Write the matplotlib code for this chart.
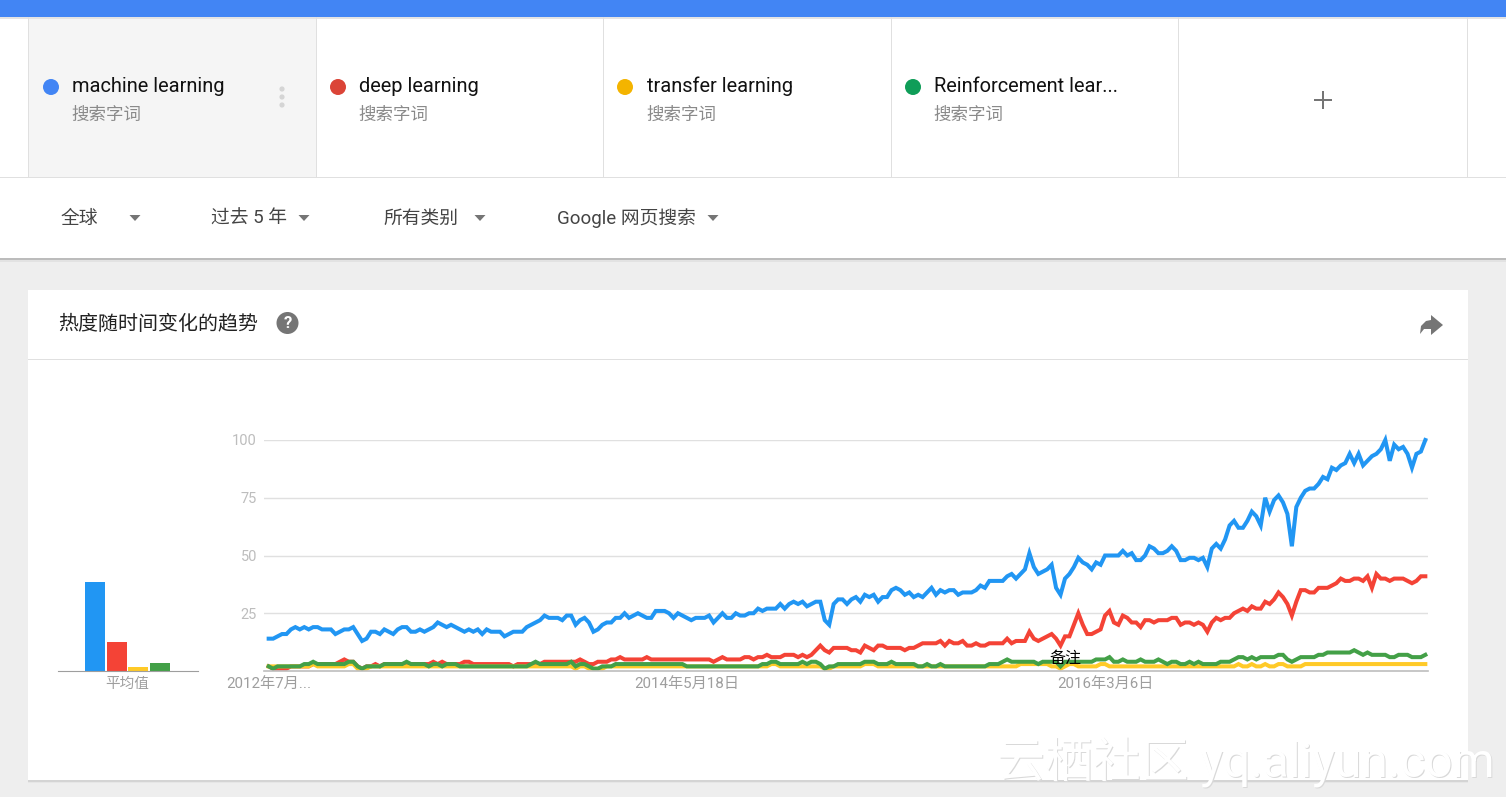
import numpy as np
import matplotlib
matplotlib.use('Agg')
import matplotlib.pyplot as plt
from matplotlib.patches import Rectangle, Circle, Polygon

plt.rcParams['font.family'] = ['Roboto', 'Noto Sans CJK SC', 'DejaVu Sans']

# Datos semanales
machine = [
    14,14,15,16,16,18,19,18,19,18, 19,19,18,18,18,16,17,18,18,19,
    16,13,14,17,17,16,18,17,16,18, 19,19,17,17,18,17,18,19,21,20,
    19,20,19,18,17,18,17,18,16,18, 17,17,17,15,16,17,17,17,19,20,
    21,22,24,23,23,23,22,24,24,20, 22,23,21,17,18,20,21,21,23,23,
    25,23,24,25,
    24,23,23,26,26,26,25,23,25,24, 23,22,23,23,23,24,21,23,25,23,
    23,25,24,24,25,25,27,26,27,27, 27,29,27,29,30,29,30,28,29,30,
    30,22,20,29,31,31,29,31,32,30, 33,32,33,30,32,32,35,36,35,33,
    34,32,33,32,34,36,33,35,34,35, 35,33,34,34,34,35,37,36,39,39,
    39,39,41,42,40,42,44,51,45,42, 43,44,46,
    36,33,40,42,45,49,
    47,46,44,47,46,50,50,50,50,52, 50,51,48,48,50,54,53,51,51,52,
    54,52,48,48,49,49,48,49,45,53, 55,53,57,63,65,62,62,65,69,67,
    63,75,69,74,76,73,68,54,71,75, 78,79,79,81,84,83,88,87,89,90,
    94,90,94,89,91,93,94,96,100,91, 98,96,97,94,88,94,95,100]
deep = [
    2,1,1,1,1,2,2,2,2,2, 3,3,3,3,3,3,4,5,4,4,
    2,1,2,2,3,2,3,3,3,3, 3,3,3,3,3,3,3,4,3,4,
    3,3,3,3,4,4,3,3,3,3, 3,3,3,3,3,2,3,3,3,3,
    3,3,4,4,4,4,4,4,4,4, 5,4,3,3,4,4,4,5,5,6,
    5,5,5,5,
    5,6,5,5,5,5,5,5,5,5, 5,5,5,5,5,5,4,5,6,5,
    5,5,5,6,6,5,6,6,7,6, 6,6,7,7,7,6,7,6,7,9,
    11,9,8,10,10,10,10,9,9,8, 11,10,9,11,11,10,10,10,10,9,
    10,10,11,12,12,12,12,13,11,13, 12,12,13,11,11,12,11,11,12,12,
    12,12,14,12,13,13,13,17,14,13, 14,15,16,
    14,11,15,15,20,25,
    20,16,16,17,18,24,26,21,20,24, 23,21,21,19,22,22,21,22,22,22,
    23,23,20,21,21,20,21,20,17,21, 23,22,23,23,25,26,27,26,28,27,
    27,30,29,31,34,32,29,24,30,35, 35,34,34,36,36,36,37,38,40,39,
    39,40,40,39,41,36,42,40,40,39, 40,40,40,39,38,39,41,41]
transfer = [
    2,2,2,2,2,2,2,2,2,2, 3,2,2,2,2,2,2,2,3,3,
    1,1,1,2,2,2,2,2,2,2, 2,2,2,2,2,2,2,2,2,2,
    2,2,2,2,2,2,2,2,2,2, 2,2,2,2,2,2,2,2,2,2,
    2,2,2,2,2,2,2,2,2,1, 2,2,1,1,1,1,2,2,2,2,
    2,2,2,2,
    2,2,2,2,2,2,2,2,2,2, 2,2,2,2,2,2,2,2,2,2,
    2,2,2,2,2,2,2,2,2,3, 3,2,2,2,2,2,2,2,2,2,
    2,1,1,2,2,2,2,2,2,2, 3,3,3,2,2,2,2,2,2,2,
    2,2,2,2,2,2,2,2,2,2, 2,2,2,2,2,2,2,2,2,2,
    2,2,2,2,2,3,3,3,3,3, 3,3,2,
    2,1,2,3,3,2,
    2,2,2,2,3,3,2,2,2,2, 2,2,2,2,2,2,2,2,2,2,
    2,2,2,2,2,2,2,2,2,2, 2,2,2,2,2,3,2,2,3,2,
    2,3,2,2,3,3,2,2,2,2, 3,3,3,3,3,3,3,3,3,3,
    3,3,3,3,3,3,3,3,3,3, 3,3,3,3,3,3,3,3]
reinforcement = [
    2,1,2,2,2,2,2,2,3,3, 4,3,3,3,3,3,3,3,4,4,
    2,1,2,2,2,2,3,3,3,3, 3,4,3,3,3,3,2,3,3,2,
    3,3,3,2,2,2,2,2,2,2, 2,2,2,2,2,2,2,2,2,3,
    4,3,3,3,3,3,3,3,4,2, 3,3,2,1,1,2,2,2,3,3,
    3,3,3,3,
    3,3,3,3,3,3,3,3,3,3, 2,2,2,2,2,2,2,2,2,2,
    2,2,2,2,2,2,2,3,3,4, 4,3,3,3,3,3,4,3,4,4,
    3,1,2,2,3,3,3,3,3,3, 4,4,4,3,3,3,4,3,3,3,
    3,3,2,2,3,2,2,3,2,2, 2,2,2,2,2,2,2,2,3,3,
    3,4,5,4,4,4,4,4,4,3, 4,4,4,
    4,2,4,4,4,4,
    4,4,4,5,5,5,6,4,4,5, 4,4,4,5,4,4,4,5,4,3,
    4,4,3,3,4,3,4,3,3,3, 3,4,4,4,5,6,6,5,6,5,
    6,6,6,6,7,7,5,4,5,6, 6,6,6,7,7,8,8,8,8,8,
    8,9,8,7,8,7,7,7,7,6, 6,7,7,7,6,6,6,7]
series = [machine, deep, transfer, reinforcement]

promedios = [38.5, 12.5, 1.7, 3.4]
colores = ['#2196f3', '#f44336', '#ffca28', '#43a047']
puntos = ['#4285f4', '#db4437', '#f4b400', '#0f9d58']
terminos = ['machine learning', 'deep learning', 'transfer learning', 'Reinforcement lear...']
filtros = ['全球', '过去 5 年', '所有类别', 'Google 网页搜索']
yticks = [25, 50, 75, 100]
xticks = [0, 94, 188]
xlabels = ['2012年7月...', '2014年5月18日', '2016年3月6日']

W, H = 1506, 797
fig = plt.figure(figsize=(W / 100, H / 100), dpi=100, facecolor='#eeeeee')


def caja(left, top, right, bottom):
    # posicion de ejes a partir de pixeles
    return [left / W, 1 - bottom / H, (right - left) / W, (bottom - top) / H]


# Fondo de la pagina en coordenadas de pixel
bg = fig.add_axes([0, 0, 1, 1], zorder=0)
bg.set_xlim(0, W)
bg.set_ylim(H, 0)
bg.axis('off')


def rect(x0, y0, x1, y1, color):
    bg.add_patch(Rectangle((x0, y0), x1 - x0, y1 - y0, color=color, lw=0))


rect(0, 17, W, 258, 'white')
rect(0, 258, W, 260, '#bcbcbc')
rect(0, 260, W, 262, '#e2e2e2')
rect(0, 0, W, 17, '#4285f4')
rect(0, 17, W, 19, '#e4e4e4')
rect(28, 19, 316, 177, '#f5f5f5')
rect(0, 177, W, 178, '#e0e0e0')
for xl in [28, 316, 603, 891, 1178, 1467]:
    rect(xl, 17, xl + 1, 177, '#e0e0e0')

text_x = [72, 359, 647, 934]
dot_x = [51, 338, 625, 913]
for i in range(4):
    bg.add_patch(Circle((dot_x[i], 87), 8, color=puntos[i], lw=0))
    bg.text(text_x[i], 86, terminos[i], fontsize=14.4, color='#111111', va='center')
    bg.text(text_x[i] - 1, 115, '搜索字词', fontsize=12.6, color='#8a8a8a', va='center')
for yd in [89, 97, 105]:
    bg.add_patch(Circle((282, yd), 2.6, color='#d5d5d5', lw=0))
rect(1314, 99, 1332, 101, '#757575')
rect(1322, 91, 1324, 109, '#757575')

filtro_x = [61, 211, 383, 557]
flecha_x = [135, 304, 480, 713]
for i in range(4):
    bg.text(filtro_x[i], 218.5, filtros[i], fontsize=13.5, color='#444444', va='center')
    xf = flecha_x[i]
    bg.add_patch(Polygon([(xf - 5.5, 215), (xf + 5.5, 215), (xf, 221)], color='#757575', lw=0))

# Tarjeta del grafico
rect(28, 782, 1468, 783, '#e6e6e6')
rect(28, 780, 1468, 782, '#d4d4d4')
rect(28, 290, 1468, 780, 'white')
rect(28, 359, 1468, 360, '#e0e0e0')
bg.text(58, 324, '热度随时间变化的趋势', fontsize=14.4, color='#222222', va='center')
bg.add_patch(Circle((287.5, 323), 11, color='#757575', lw=0))
bg.text(287.5, 323.5, '?', fontsize=12, color='white', ha='center', va='center', fontweight='bold')
bg.add_patch(Polygon([(1431, 315), (1443, 325), (1431, 335), (1431, 329), (1424, 329),
                      (1420, 334), (1421, 326), (1426, 321), (1431, 320)], color='#757575', lw=0))

# Tendencia principal
ax = fig.add_axes(caja(264, 440, 1428, 671), zorder=2)
ax.patch.set_alpha(0)
x = np.arange(len(machine))
for yv, color in zip(series, colores):
    ax.plot(x, yv, color=color, lw=2.9, clip_on=False, solid_joinstyle='miter')
ax.set_xlim(-1.05, 260.6)
ax.set_ylim(0, 100)
ax.set_yticks(yticks)
ax.set_xticks(xticks)
ax.set_xticklabels(xlabels)
ax.tick_params(axis='both', length=0)
ax.tick_params(axis='y', labelcolor='#bdbdbd', labelsize=10.5, pad=5)
ax.tick_params(axis='x', labelcolor='#9e9e9e', labelsize=10.9, pad=4)
ax.grid(axis='y', color='#e0e0e0', lw=1)
ax.set_axisbelow(True)
for s in ['top', 'left', 'right']:
    ax.spines[s].set_visible(False)
ax.spines['bottom'].set_color('#bdbdbd')
ax.spines['bottom'].set_linewidth(1.2)
ax.text(179, 5.5, '备注', fontsize=11.5, color='black', ha='center', va='center')

# Promedios
ax2 = fig.add_axes(caja(58, 440, 198, 671), zorder=2)
ax2.patch.set_alpha(0)
ax2.bar(range(4), promedios, width=0.93, color=colores)
ax2.set_xlim(-1.705, 4.75)
ax2.set_ylim(0, 100)
ax2.set_yticks([])
ax2.set_xticks([1.5])
ax2.set_xticklabels(['平均值'])
ax2.tick_params(axis='x', length=0, labelcolor='#9e9e9e', labelsize=10.5, pad=4)
for s in ['top', 'left', 'right']:
    ax2.spines[s].set_visible(False)
ax2.spines['bottom'].set_color('#9e9e9e')

# Marca de agua
marca = '云栖社区 yq.aliyun.com'
fig.text(998.5 / W, 1 - 763 / H, marca, fontsize=34.5, color='#d9d9d9', va='center', zorder=5)
fig.text(997 / W, 1 - 761.5 / H, marca, fontsize=34.5, color='white', va='center', zorder=6)

fig.savefig('out.png', dpi=100, facecolor=fig.get_facecolor())
